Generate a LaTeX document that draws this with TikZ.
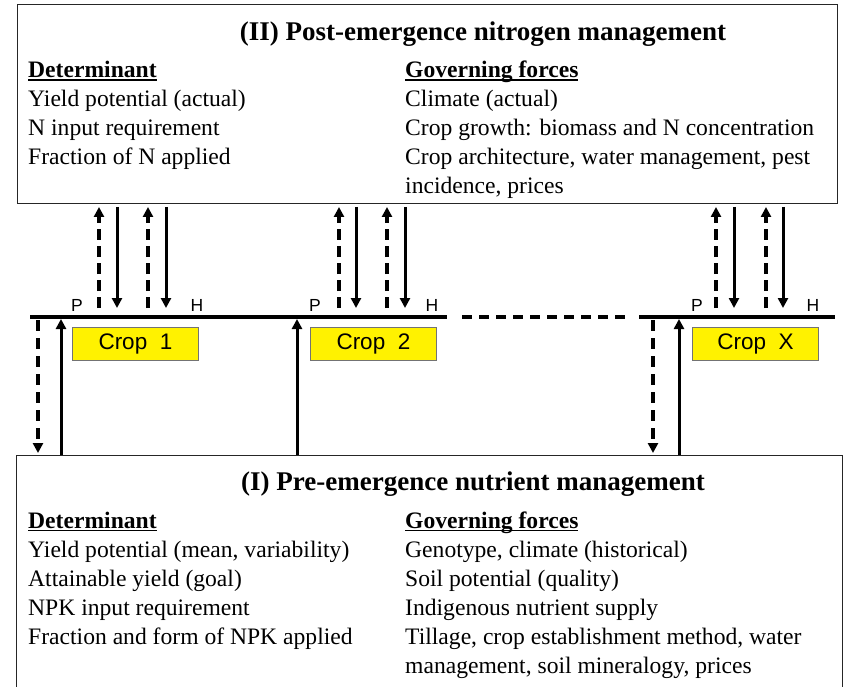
\documentclass[tikz,border=0pt]{standalone}
\usepackage{fontspec}
\setmainfont{Liberation Serif}
\setsansfont{Liberation Sans}
\usetikzlibrary{arrows.meta}
\newcommand\myul[1]{\setbox0\hbox{#1}\rlap{\rule[-3.2pt]{\wd0}{1.7pt}}\box0}
\begin{document}
\begin{tikzpicture}[x=1pt,y=-1pt,
  boxframe/.style={draw=black!85, line width=1.4pt, inner sep=0pt, anchor=north west},
  titletext/.style={font=\fontsize{27}{32}\selectfont\bfseries, inner sep=0pt, anchor=base},
  bodytext/.style={font=\fontsize{23.6}{29}\selectfont, inner sep=0pt, anchor=base west},
  headtext/.style={font=\fontsize{23.6}{29}\selectfont\bfseries, inner sep=0pt, anchor=base west},
  phlabel/.style={font=\sffamily\fontsize{17.5}{20}\selectfont, inner sep=0pt, anchor=base},
  cropbox/.style={draw=black!55, line width=0.8pt, fill=yellow, minimum width=126pt, minimum height=33pt,
     inner sep=0pt, anchor=north west, font=\sffamily\fontsize{22.5}{26}\selectfont},
  timeline/.style={line width=3.8pt},
  solidarr/.style={line width=3pt, -{Triangle[width=10pt,length=10pt]}},
  dasharr/.style={line width=3.4pt, dash pattern=on 11pt off 6pt, -{Triangle[width=10pt,length=10pt]}},
]
\useasboundingbox (0,0) rectangle (846,687);

% boxes
\node[boxframe, minimum width=820pt, minimum height=199pt] (post) at (17,4) {};
\node[boxframe, minimum width=826pt, minimum height=260pt] (pre) at (16,455) {};

% top box text
\node[titletext] (t2) at (483,41) {(II) Post-emergence nitrogen management};
\node[headtext] (d2) at (28,78) {\myul{Determinant}};
\node[bodytext] (d2a) at (28,107) {Yield potential (actual)};
\node[bodytext] (d2b) at (28,136) {N input requirement};
\node[bodytext] (d2c) at (28,165) {Fraction of N applied};
\node[headtext] (g2) at (405,78) {\myul{Governing forces}};
\node[bodytext] (g2a) at (405,107) {Climate (actual)};
\node[bodytext] (g2b) at (405,136) {Crop growth: biomass and N concentration};
\node[bodytext] (g2c) at (405,165) {Crop architecture, water management, pest};
\node[bodytext] (g2d) at (405,194) {incidence, prices};

% bottom box text
\node[titletext] (t1) at (473,490) {(I) Pre-emergence nutrient management};
\node[headtext] (d1) at (28,528) {\myul{Determinant}};
\node[bodytext] (d1a) at (28,557) {Yield potential (mean, variability)};
\node[bodytext] (d1b) at (28,586) {Attainable yield (goal)};
\node[bodytext] (d1c) at (28,615) {NPK input requirement};
\node[bodytext] (d1d) at (28,644) {Fraction and form of NPK applied};
\node[headtext] (g1) at (405,528) {\myul{Governing forces}};
\node[bodytext] (g1a) at (405,557) {Genotype, climate (historical)};
\node[bodytext] (g1b) at (405,586) {Soil potential (quality)};
\node[bodytext] (g1c) at (405,615) {Indigenous nutrient supply};
\node[bodytext] (g1d) at (405,644) {Tillage, crop establishment method, water};
\node[bodytext] (g1e) at (405,673) {management, soil mineralogy, prices};

% timeline
\coordinate (la) at (30,317);
\coordinate (lb) at (447,317);
\coordinate (lc) at (462,317);
\coordinate (ld) at (630,317);
\coordinate (le) at (639,317);
\coordinate (lf) at (835,317);
\draw[timeline] (la) -- (lb);
\draw[timeline, dash pattern=on 10pt off 7pt] (lc) -- (ld);
\draw[timeline] (le) -- (lf);

% crop boxes
\node[cropbox] (c1) at (72,327) {Crop\ \ 1};
\node[cropbox] (c2) at (310,327) {Crop\ \ 2};
\node[cropbox] (cx) at (692,327) {Crop\ \ X};

% P / H labels
\node[phlabel] (p1) at (77,311) {P};
\node[phlabel] (h1) at (197,311) {H};
\node[phlabel] (p2) at (315,311) {P};
\node[phlabel] (h2) at (432,311) {H};
\node[phlabel] (px) at (697,311) {P};
\node[phlabel] (hx) at (813,311) {H};

% upper arrows (between timeline and post-emergence box)
\foreach \x [count=\i] in {99,148,339,387,716,766} {
  \coordinate (ud\i) at (\x,308);
  \coordinate (uu\i) at (\x,207);
  \draw[dasharr] (ud\i) -- (uu\i);
}
\foreach \x [count=\i] in {117,166,356,405,734,783} {
  \coordinate (sd\i) at (\x,207);
  \coordinate (su\i) at (\x,308);
  \draw[solidarr] (sd\i) -- (su\i);
}

% lower arrows (between pre-emergence box and timeline)
\foreach \x [count=\i] in {38,653} {
  \coordinate (ld\i) at (\x,320);
  \coordinate (lu\i) at (\x,453);
  \draw[dasharr, dash pattern=on 11pt off 7pt] (ld\i) -- (lu\i);
}
\foreach \x [count=\i] in {61,297,679} {
  \coordinate (bs\i) at (\x,455);
  \coordinate (bt\i) at (\x,319);
  \draw[solidarr] (bs\i) -- (bt\i);
}
\end{tikzpicture}
\end{document}
